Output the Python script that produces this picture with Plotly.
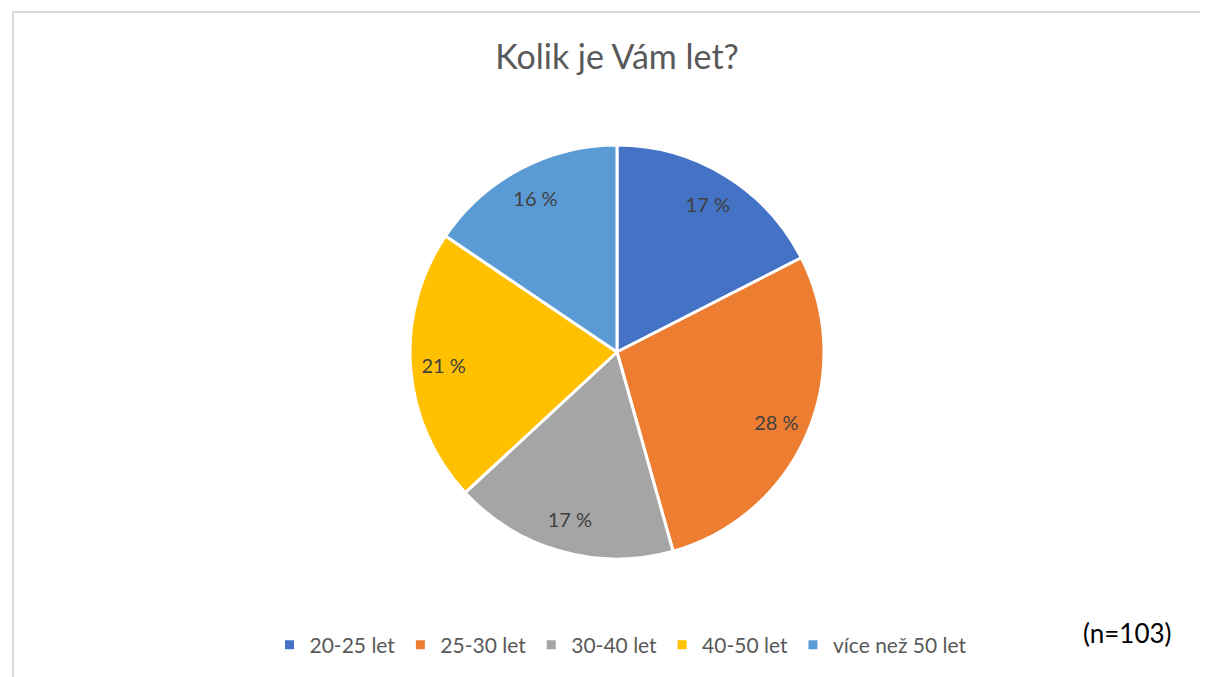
import plotly.graph_objects as go

categories = ["20-25 let", "25-30 let", "30-40 let", "40-50 let", "více než 50 let"]
counts = [18, 29, 18, 22, 16]
colors = ["#4472C4", "#ED7D31", "#A5A5A5", "#FFC000", "#5B9BD5"]
n_total = 103

OFF = 8  # default page body margin
W, H = 1208 - OFF, 677 - OFF
cx, cy, r = 617 - OFF, 352 - OFF, 207

total = sum(counts)
labels_text = [f"{round(v / total * 100)} %" for v in counts]
font_fam = "Lato, Carlito, sans-serif"
dom = dict(x=[(cx - r) / W, (cx + r) / W], y=[(H - cy - r) / H, (H - cy + r) / H])

fig = go.Figure()
fig.add_trace(go.Pie(
    labels=categories, values=counts, textinfo="none",
    sort=False, direction="clockwise", rotation=0,
    marker=dict(colors=colors, line=dict(color="white", width=3)),
    domain=dom, hoverinfo="label+percent",
))
# label layer: same slices as a transparent ring so labels sit at Excel-like radius
fig.add_trace(go.Pie(
    labels=categories, values=counts, text=labels_text, textinfo="text",
    textposition="inside", insidetextorientation="horizontal",
    sort=False, direction="clockwise", rotation=0, hole=0.68,
    marker=dict(colors=["rgba(0,0,0,0)"] * len(counts), line=dict(width=0)),
    textfont=dict(family=font_fam, size=20, color="#404040"),
    domain=dom, hoverinfo="skip", showlegend=False,
))

fig.update_layout(
    width=W, height=H,
    margin=dict(l=0, r=0, t=0, b=0),
    paper_bgcolor="white",
    plot_bgcolor="white",
    font=dict(family=font_fam, color="#595959"),
    title=dict(text="Kolik je Vám let?", x=(617 - OFF) / W, xanchor="center", y=1 - (57 - OFF) / H, yanchor="middle",
               font=dict(size=34, color="#595959", family=font_fam)),
    showlegend=True,
    legend=dict(orientation="h", x=(621 - OFF) / W, xanchor="center", y=1 - (645 - OFF) / H, yanchor="middle",
                font=dict(size=21, color="#595959"), itemwidth=30, traceorder="normal"),
    annotations=[dict(text=f"(n={n_total})", x=(1127 - OFF) / W, xanchor="center", y=1 - (633 - OFF) / H,
                      yanchor="middle", xref="paper", yref="paper",
                      showarrow=False, font=dict(size=26, color="#000000", family=font_fam))],
    shapes=[dict(type="rect", xref="paper", yref="paper", x0=(13 - OFF) / W, x1=1.05, y0=-0.05,
                 y1=1 - (12 - OFF) / H, line=dict(color="#D9D9D9", width=2), layer="below")],
)

fig.write_html("out.html")
